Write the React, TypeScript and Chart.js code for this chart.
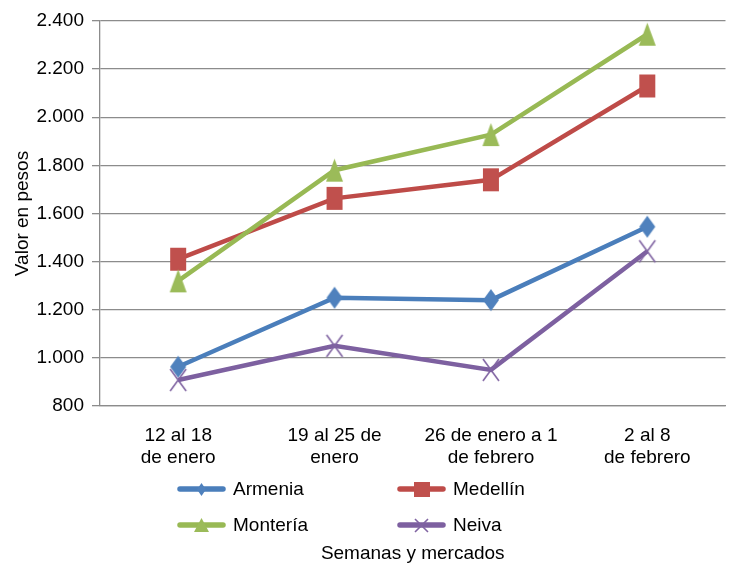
import React, { useEffect, useRef } from "react";
import { Chart, registerables } from "chart.js";

Chart.register(...registerables);

const categories: string[][] = [
  ["12 al 18", "de enero"],
  ["19 al 25 de", "enero"],
  ["26 de enero a 1", "de febrero"],
  ["2 al 8", "de febrero"],
];

const seriesNames = ["Armenia", "Medellín", "Montería", "Neiva"];
const armenia = [963, 1250, 1240, 1545];
const medellin = [1410, 1663, 1740, 2130];
const monteria = [1320, 1780, 1928, 2345];
const neiva = [908, 1050, 950, 1443];

const yMin = 800;
const yMax = 2400;
const yStep = 200;

const xTitle = "Semanas y mercados";
const yTitle = "Valor en pesos";

const FONT = "'Liberation Sans', Arial, sans-serif";

type Kind = "diamond" | "square" | "triangle" | "cross";

const styles: { line: string; fill: string; kind: Kind; w: number; h: number; lw: number; lgW: number; lgH: number }[] = [
  { line: "#4A7EBB", fill: "#4F81BD", kind: "diamond", w: 16, h: 22, lw: 0, lgW: 9, lgH: 13 },
  { line: "#BE4B48", fill: "#C0504D", kind: "square", w: 16, h: 23, lw: 0, lgW: 16, lgH: 15 },
  { line: "#98B954", fill: "#9BBB59", kind: "triangle", w: 17, h: 23, lw: 0, lgW: 15, lgH: 14 },
  { line: "#7D60A0", fill: "#8064A2", kind: "cross", w: 16, h: 22, lw: 1.6, lgW: 13, lgH: 13 },
];

function makeMarker(kind: Kind, w: number, h: number, color: string, lw: number): HTMLCanvasElement {
  const pad = 2;
  const c = document.createElement("canvas");
  c.width = w + pad * 2;
  c.height = h + pad * 2;
  const ctx = c.getContext("2d")!;
  ctx.translate(pad, pad);
  ctx.fillStyle = color;
  ctx.strokeStyle = color;
  ctx.beginPath();
  if (kind === "diamond") {
    ctx.moveTo(w / 2, 0);
    ctx.lineTo(w, h / 2);
    ctx.lineTo(w / 2, h);
    ctx.lineTo(0, h / 2);
    ctx.closePath();
    ctx.fill();
  } else if (kind === "square") {
    ctx.rect(0, 0, w, h);
    ctx.fill();
  } else if (kind === "triangle") {
    ctx.moveTo(w / 2, 0);
    ctx.lineTo(w, h);
    ctx.lineTo(0, h);
    ctx.closePath();
    ctx.fill();
  } else {
    ctx.lineWidth = lw;
    ctx.moveTo(0, 0);
    ctx.lineTo(w, h);
    ctx.moveTo(w, 0);
    ctx.lineTo(0, h);
    ctx.stroke();
  }
  return c;
}

const fmt = (v: number) => String(Math.round(v)).replace(/\B(?=(\d{3})+(?!\d))/g, ".");

const noPadding = () => ({ left: 0, top: 0, right: 0, bottom: 0 });

export default function App() {
  const ref = useRef<HTMLCanvasElement | null>(null);
  useEffect(() => {
    if (!ref.current) return;
    const data = [armenia, medellin, monteria, neiva];
    const markers = styles.map((s) => makeMarker(s.kind, s.w, s.h, s.fill, s.lw));
    const legendMarkers = styles.map((s) => makeMarker(s.kind, s.lgW, s.lgH, s.fill, s.lw));

    const legendPlugin = {
      id: "customLegend",
      afterDraw(chart: any) {
        const ctx = chart.ctx;
        const area = chart.chartArea;
        const cols = [area.left + 78, area.left + 298];
        const rows = [area.bottom + 83, area.bottom + 119];
        ctx.save();
        ctx.font = `19px ${FONT}`;
        ctx.textBaseline = "middle";
        ctx.textAlign = "left";
        seriesNames.forEach((name, i) => {
          const s = styles[i];
          const x = cols[i % 2];
          const y = rows[Math.floor(i / 2)];
          ctx.strokeStyle = s.line;
          ctx.lineWidth = 5.5;
          ctx.lineCap = "round";
          ctx.beginPath();
          ctx.moveTo(x + 2, y);
          ctx.lineTo(x + 45, y);
          ctx.stroke();
          const m = legendMarkers[i];
          ctx.drawImage(m, Math.round(x + 23.5 - m.width / 2), Math.round(y - m.height / 2));
          ctx.fillStyle = "#000";
          ctx.fillText(name, x + 55, y + 1);
        });
        ctx.textAlign = "center";
        ctx.fillText(xTitle, (area.left + area.right) / 2, area.bottom + 148);
        ctx.restore();
      },
    };

    const chart = new Chart(ref.current, {
      type: "line",
      data: {
        labels: categories as any,
        datasets: data.map((d, i) => ({
          label: seriesNames[i],
          data: d,
          borderColor: styles[i].line,
          backgroundColor: styles[i].fill,
          borderWidth: 4.5,
          pointStyle: markers[i] as any,
          pointRadius: 10,
          tension: 0,
          order: 3 - i,
        })),
      },
      options: {
        animation: false,
        responsive: false,
        maintainAspectRatio: false,
        layout: { padding: { left: 11, right: 4, top: 21, bottom: 101 } },
        plugins: {
          legend: { display: false },
          tooltip: { enabled: false },
          title: { display: false },
        },
        scales: {
          x: {
            offset: true,
            grid: { display: false, drawTicks: false },
            border: { display: true, color: "#8C8C8C", width: 1.3 },
            ticks: {
              color: "#000",
              font: { family: FONT, size: 19 },
              padding: 18,
              maxRotation: 0,
              autoSkip: false,
            },
            afterFit: (scale: any) => {
              scale.height = 60;
              scale.paddingLeft = 0;
              scale.paddingRight = 0;
              scale.getPadding = noPadding;
            },
          },
          y: {
            min: yMin,
            max: yMax,
            ticks: {
              stepSize: yStep,
              color: "#000",
              font: { family: FONT, size: 19 },
              padding: 8,
              callback: (v: any) => fmt(Number(v)),
            },
            grid: { color: "#8C8C8C", lineWidth: 1.3, drawTicks: true, tickLength: 8 },
            border: { display: true, color: "#8C8C8C", width: 1.3 },
            title: {
              display: true,
              text: yTitle,
              color: "#000",
              font: { family: FONT, size: 19 },
              padding: { top: 0, bottom: 0 },
            },
            afterFit: (scale: any) => {
              scale.width = 89;
              scale.getPadding = noPadding;
            },
          },
        },
      },
      plugins: [legendPlugin],
    });
    return () => chart.destroy();
  }, []);
  return (
    <div style={{ position: "absolute", left: 0, top: 0, width: 729, height: 567, overflow: "hidden", background: "#fff" }}>
      <canvas ref={ref} width={740} height={567} style={{ display: "block" }} />
    </div>
  );
}
